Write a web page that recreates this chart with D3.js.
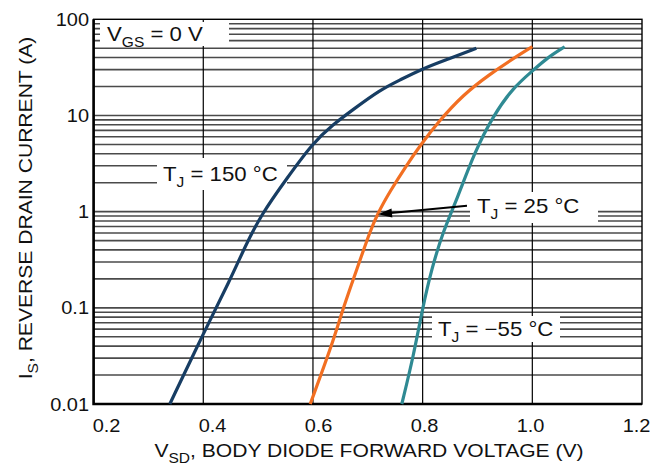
<!DOCTYPE html>
<html>
<head>
<meta charset="utf-8">
<script src="https://cdn.jsdelivr.net/npm/d3@7"></script>
<style>
    body { margin: 0; background: #fff; }
    text { font-family: "Liberation Sans", Arial, Helvetica, sans-serif; fill: #111; }
</style>
</head>
<body>
<svg id="chart" width="666" height="466"></svg>
<script>
    'use strict';

    // values (V, A)
    var hotV  = [0.339, 0.400, 0.449, 0.475, 0.505, 0.552, 0.600, 0.636, 0.673, 0.722, 0.758, 0.801, 0.849, 0.898];
    var hotI  = [0.01, 0.054, 0.195, 0.42, 0.92, 2.2, 5.2, 8.0, 11.5, 18.4, 23.3, 30.9, 39, 50];

    var roomV = [0.595, 0.636, 0.655, 0.686, 0.703, 0.718, 0.740, 0.770, 0.797, 0.828, 0.874, 0.923, 0.965, 1.000];
    var roomI = [0.01, 0.043, 0.1, 0.314, 0.6, 0.96, 1.61, 3.0, 5.0, 8.5, 16.5, 27, 39, 52];

    var coldV = [0.762, 0.783, 0.800, 0.816, 0.838, 0.862, 0.895, 0.929, 0.965, 1.002, 1.026, 1.059];
    var coldI = [0.01, 0.031, 0.1, 0.25, 0.64, 1.32, 4.2, 10.0, 19.5, 29.6, 39.3, 51.8];

    var xTicks = [0.2, 0.4, 0.6, 0.8, 1.0, 1.2];
    var xTickLabels = ['0.2', '0.4', '0.6', '0.8', '1.0', '1.2'];
    var yTicks = [0.01, 0.1, 1, 10, 100];
    var yTickLabels = ['0.01', '0.1', '1', '10', '100'];

    var series = [
        { v: hotV,  i: hotI,  color: '#173d63' },
        { v: roomV, i: roomI, color: '#f26f22' },
        { v: coldV, i: coldI, color: '#2f8a93' }
    ];

    /******************************************************************
        layout
     ******************************************************************/
    var L = 93.6, R = 642, T = 19.3, B = 404;
    var STRETCH = 1.11;     // reference type is a little wide
    var svg = d3.select('#chart');

    var x = d3.scaleLinear().domain([0.2, 1.2]).range([L, R]);
    var y = d3.scaleLog().domain([0.01, 100]).range([B, T]);
    // tick labels in the reference sit slightly inward of the grid
    var xLab = d3.scaleLinear().domain([0.2, 1.2]).range([106.5, 636.5]);

    // minor + major horizontal grid
    var hLines = [];
    d3.range(-2, 2).forEach(function(p) {
        d3.range(1, 10).forEach(function(k) { hLines.push(k * Math.pow(10, p)); });
    });
    hLines = hLines.filter(function(d) { return d > 0.01; });

    svg.append('g').selectAll('line').data(hLines).join('line')
        .attr('x1', L).attr('x2', R)
        .attr('y1', function(d) { return y(d); })
        .attr('y2', function(d) { return y(d); })
        .style('stroke', '#4a4a4a')
        .style('stroke-width', 1.6);

    svg.append('g').selectAll('line').data(xTicks.slice(1, -1)).join('line')
        .attr('x1', function(d) { return x(d); })
        .attr('x2', function(d) { return x(d); })
        .attr('y1', T).attr('y2', B)
        .style('stroke', '#000')
        .style('stroke-width', 1.2);

    /******************************************************************
        label boxes (white, knock out the grid)
     ******************************************************************/
    var boxes = [
        [100, 22, 129, 24],
        [157, 158, 130, 32],
        [470, 192, 128, 31],
        [432, 316, 128, 26]
    ];
    svg.append('g').selectAll('rect').data(boxes).join('rect')
        .attr('x', function(d) { return d[0]; })
        .attr('y', function(d) { return d[1]; })
        .attr('width', function(d) { return d[2]; })
        .attr('height', function(d) { return d[3]; })
        .style('fill', '#fff');

    // frame
    svg.append('rect')
        .attr('x', L).attr('y', T)
        .attr('width', R - L).attr('height', B - T)
        .style('fill', 'none').style('stroke', '#000').style('stroke-width', 1.4);
    svg.append('path')
        .attr('d', 'M' + L + ' ' + T + ' V' + B + ' H' + R)
        .style('fill', 'none').style('stroke', '#000').style('stroke-width', 2.6);

    /******************************************************************
        curves
     ******************************************************************/
    var line = d3.line()
        .x(function(d) { return x(d[0]); })
        .y(function(d) { return y(d[1]); })
        .curve(d3.curveBasis);

    series.forEach(function(s) {
        svg.append('path')
            .datum(d3.zip(s.v, s.i))
            .attr('d', line)
            .style('fill', 'none')
            .style('stroke', s.color)
            .style('stroke-width', 3.2)
            .style('stroke-linejoin', 'round');
    });

    /******************************************************************
        text
     ******************************************************************/
    // text placed at (px, py), stretched along its run
    function at(px, py, rot) {
        return svg.append('g')
            .attr('transform', 'translate(' + px + ',' + py + ')' +
                  (rot ? ' rotate(' + rot + ')' : '') + ' scale(' + STRETCH + ',1)');
    }

    function rich(g, parts, size) {
        var t = g.append('text').style('font-size', size + 'px');
        var sub = Math.round(size * 0.72), shift = size * 0.3;
        parts.forEach(function(p) {
            var s = t.append('tspan').text(p[0]);
            if (p[1] === 1) {
                s.style('font-size', sub + 'px').attr('dy', shift);
            } else if (p[1] === -1) {
                s.attr('dy', -shift);
            }
        });
        return t;
    }

    yTicks.forEach(function(d, i) {
        at(89, y(d) + 6.5).append('text')
            .attr('text-anchor', 'end')
            .style('font-size', '18px')
            .text(yTickLabels[i]);
    });

    xTicks.forEach(function(d, i) {
        at(xLab(d), 432).append('text')
            .attr('text-anchor', 'middle')
            .style('font-size', '18px')
            .text(xTickLabels[i]);
    });

    rich(at(369, 457), [['V', 0], ['SD', 1], [', BODY DIODE FORWARD VOLTAGE (V)', -1]], 19)
        .attr('text-anchor', 'middle');

    rich(at(32, 208, -90), [['I', 0], ['S', 1], [', REVERSE DRAIN CURRENT (A)', -1]], 19)
        .attr('text-anchor', 'middle');

    rich(at(107, 41), [['V', 0], ['GS', 1], [' = 0 V', -1]], 20);
    rich(at(163, 181), [['T', 0], ['J', 1], [' = 150 °C', -1]], 20);
    rich(at(477, 213), [['T', 0], ['J', 1], [' = 25 °C', -1]], 20);
    rich(at(438, 336), [['T', 0], ['J', 1], [' = \u221255 °C', -1]], 20);

    // arrow to the 25 °C curve
    var tip = [378, 214.3], tail = [467, 205.7];
    var ang = Math.atan2(tail[1] - tip[1], tail[0] - tip[0]);
    function pt(len, off) {
        return [tip[0] + len * Math.cos(ang) - off * Math.sin(ang),
                tip[1] + len * Math.sin(ang) + off * Math.cos(ang)];
    }
    svg.append('line')
        .attr('x1', tail[0]).attr('y1', tail[1])
        .attr('x2', pt(10, 0)[0]).attr('y2', pt(10, 0)[1])
        .style('stroke', '#000').style('stroke-width', 2);
    svg.append('path')
        .attr('d', 'M' + tip + 'L' + pt(14, 4.5) + 'L' + pt(14, -4.5) + 'Z')
        .style('fill', '#000');
</script>
</body>
</html>
